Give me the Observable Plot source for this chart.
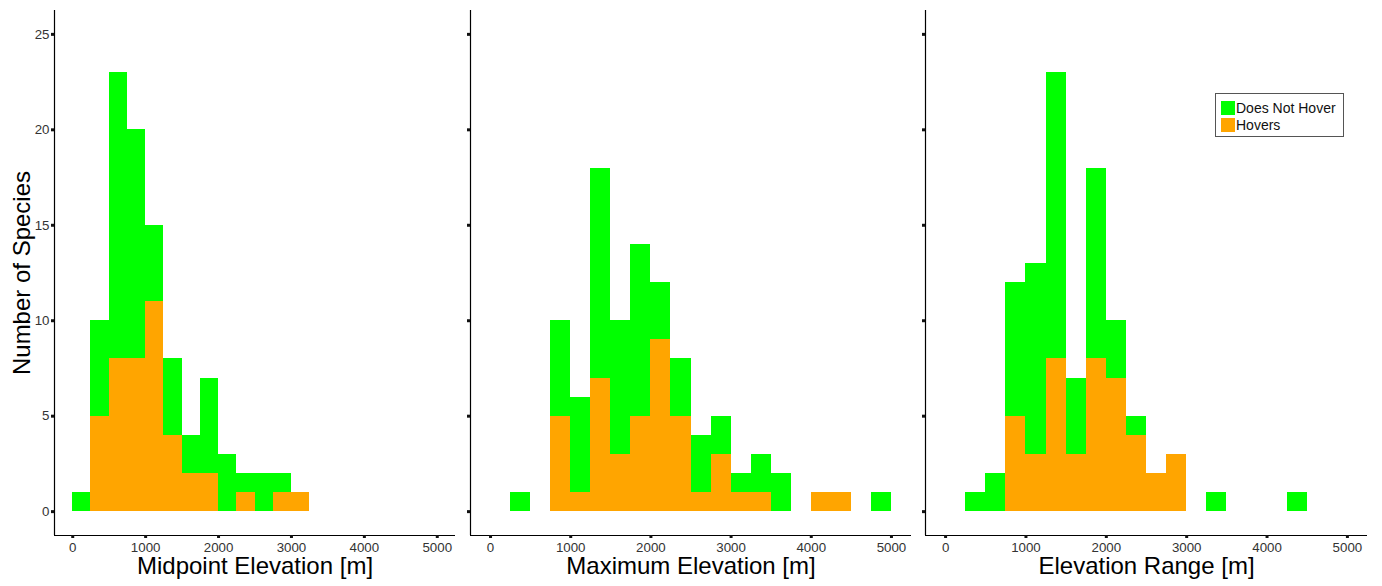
<!DOCTYPE html>
<html><head><meta charset="utf-8">
<script src="https://cdn.jsdelivr.net/npm/d3@7"></script>
<script src="https://cdn.jsdelivr.net/npm/@observablehq/plot@0.6"></script>
<style>
body{margin:0;background:#fff;}
#wrap{position:relative;width:1382px;height:586px;overflow:hidden;font-family:"Liberation Sans",Arial,sans-serif;background:#fff;}
.panel{position:absolute;top:0;}
#legend{position:absolute;left:1215px;top:93px;width:129px;height:44px;box-sizing:border-box;border:1.5px solid #555;background:#fff;padding:5px 0 0 5px;}
.lrow{display:flex;align-items:center;height:17px;font-size:14px;color:#111;}
.lsw{width:14px;height:14px;margin-right:1px;}
</style></head><body><div id="wrap"></div>
<script>
// 250 m bins
const binStart = [0,250,500,750,1000,1250,1500,1750,2000,2250,2500,2750,3000,3250,3500,3750,4000,4250,4500,4750];
const binWidth = 250;
const groups = ["Does Not Hover", "Hovers"];
const groupColors = ["#00FF00", "#FFA500"];

// Midpoint elevation counts
const midHovers    = [0,5,8,8,11,4,2,2,0,1,0,1,1,0,0,0,0,0,0,0];
const midNotHover  = [1,5,15,12,4,4,2,5,3,1,2,1,0,0,0,0,0,0,0,0];
// Maximum elevation counts
const maxHovers    = [0,0,0,5,1,7,3,5,9,5,1,3,1,1,0,0,1,1,0,0];
const maxNotHover  = [0,1,0,5,5,11,7,9,3,3,3,2,1,2,2,0,0,0,0,1];
// Elevation range counts
const rngHovers    = [0,0,0,5,3,8,3,8,7,4,2,3,0,0,0,0,0,0,0,0];
const rngNotHover  = [0,1,2,7,10,15,4,10,3,1,0,0,0,1,0,0,0,1,0,0];

const xTicks = [0,1000,2000,3000,4000,5000];
const yTicks = [0,5,10,15,20,25];
const panelTitles = ["Midpoint Elevation [m]", "Maximum Elevation [m]", "Elevation Range [m]"];
const yTitle = "Number of Species";

function rows(hovers, notHover) {
  const out = [];
  binStart.forEach((b, i) => { if (hovers[i] > 0) out.push({x1: b, x2: b + binWidth, count: hovers[i], group: "Hovers"}); });
  binStart.forEach((b, i) => { if (notHover[i] > 0) out.push({x1: b, x2: b + binWidth, count: notHover[i], group: "Does Not Hover"}); });
  return out;
}

const FONT = '"Liberation Sans", Arial, sans-serif';

function panel(data, title, o) {
  return Plot.plot({
    width: o.width, height: 586,
    marginLeft: o.ml, marginRight: o.mr, marginTop: 10, marginBottom: 51,
    x: {domain: [-250, 5250]},
    y: {domain: [-1.25, 26.25]},
    color: {domain: groups, range: groupColors},
    style: {fontFamily: FONT, background: "white", overflow: "visible"},
    marks: [
      Plot.rectY(data, {x1: "x1", x2: "x2", y: "count", fill: "group", inset: 0, shapeRendering: "crispEdges"}),
      Plot.ruleX([-250], {stroke: "#000", strokeWidth: 1.2}),
      Plot.ruleY([-1.25], {stroke: "#000", strokeWidth: 1.2}),
      Plot.axisY({ticks: yTicks, tickSize: 3, tickPadding: 2, strokeWidth: 3, stroke: "#111", fill: "#333",
        fontSize: 13.3, label: null, tickFormat: o.showY ? (d => String(d)) : (() => "")}),
      Plot.axisX({ticks: xTicks, tickSize: 3, tickPadding: 4, strokeWidth: 3, stroke: "#111", fill: "#333",
        fontSize: 13.3, label: null, tickFormat: d => String(d)}),
      Plot.text([title], {text: d => d, frameAnchor: "bottom", lineAnchor: "middle", textAnchor: "middle",
        dy: 31, fontSize: 24, fill: "#000"}),
      o.showY ? Plot.text([yTitle], {text: d => d, frameAnchor: "left", lineAnchor: "middle", textAnchor: "middle",
        dx: -32, rotate: -90, fontSize: 24, fill: "#000"}) : null
    ]
  });
}

const wrap = document.getElementById("wrap");
const specs = [
  {data: rows(midHovers, midNotHover), left: 0, width: 462, ml: 54, mr: 7, showY: true},
  {data: rows(maxHovers, maxNotHover), left: 462, width: 458, ml: 8, mr: 9, showY: false},
  {data: rows(rngHovers, rngNotHover), left: 920, width: 462, ml: 5, mr: 15, showY: false}
];
specs.forEach((s, i) => {
  const div = document.createElement("div");
  div.className = "panel";
  div.style.left = s.left + "px";
  div.appendChild(panel(s.data, panelTitles[i], s));
  wrap.appendChild(div);
});

// legend
const leg = document.createElement("div");
leg.id = "legend";
groups.forEach((g, i) => {
  const r = document.createElement("div");
  r.className = "lrow";
  const sw = document.createElement("span");
  sw.className = "lsw";
  sw.style.background = groupColors[i];
  const t = document.createElement("span");
  t.textContent = g;
  r.appendChild(sw); r.appendChild(t);
  leg.appendChild(r);
});
wrap.appendChild(leg);
</script></body></html>
